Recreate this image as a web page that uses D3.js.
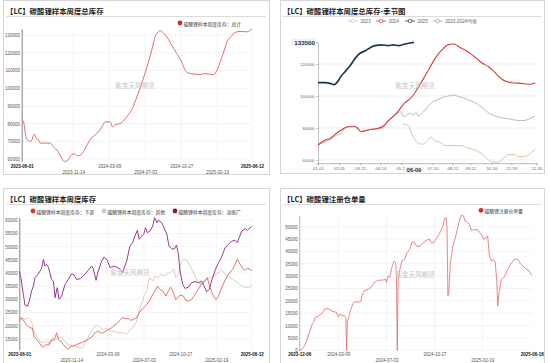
<!DOCTYPE html>
<html>
<head>
<meta charset="utf-8">
<script src="https://cdn.jsdelivr.net/npm/d3@7"></script>
<style>
  body { margin: 0; background: #fff; }
  svg { display: block; font-family: "Noto Sans CJK SC", "Noto Sans", sans-serif; }
</style>
</head>
<body>
<svg id="chart" width="550" height="363"></svg>
<script>
// ---- data ----
const totalStock = [
  ['2023-06-01', 82000], ['2023-06-06', 81500], ['2023-06-17', 71000], ['2023-06-28', 70000],
  ['2023-07-03', 70500], ['2023-07-12', 74000], ['2023-07-17', 72000], ['2023-07-25', 71000],
  ['2023-07-30', 69000], ['2023-08-31', 69000], ['2023-09-11', 67000], ['2023-09-27', 64000],
  ['2023-10-08', 60500], ['2023-10-16', 58700], ['2023-10-24', 58800], ['2023-11-01', 60500],
  ['2023-11-09', 62500], ['2023-11-17', 63000], ['2023-11-28', 61800], ['2023-12-08', 62300],
  ['2023-12-17', 64000], ['2023-12-30', 68500], ['2024-01-13', 72000], ['2024-01-29', 74500],
  ['2024-02-14', 78000], ['2024-02-25', 81000], ['2024-03-12', 81000], ['2024-03-20', 78000],
  ['2024-03-28', 79300], ['2024-04-13', 80000], ['2024-04-24', 81500], ['2024-05-05', 84000],
  ['2024-05-21', 88000], ['2024-06-06', 95000], ['2024-06-22', 103000], ['2024-07-08', 111500],
  ['2024-07-24', 121500], ['2024-08-04', 129000], ['2024-08-15', 132000], ['2024-08-20', 132500],
  ['2024-08-31', 131000], ['2024-09-16', 127500], ['2024-10-02', 122500], ['2024-10-18', 118000],
  ['2024-10-29', 114500], ['2024-11-09', 110000], ['2024-11-20', 108500], ['2024-12-06', 108000],
  ['2024-12-27', 107700], ['2025-01-09', 108200], ['2025-01-23', 108000], ['2025-02-08', 107600],
  ['2025-02-19', 110000], ['2025-03-02', 115000], ['2025-03-15', 121500], ['2025-03-23', 126000],
  ['2025-04-05', 129000], ['2025-04-19', 131500], ['2025-05-05', 132000], ['2025-05-27', 131800],
  ['2025-06-12', 133500]
];
const totalTicks = ['2023-06-01', '2023-11-14', '2024-03-09', '2024-07-03', '2024-10-27', '2025-02-19', '2025-06-12'];

const season2023 = [
  ['05-22', 82500], ['05-31', 81250], ['06-05', 76700], ['06-13', 71500], ['06-19', 70000],
  ['06-25', 70000], ['07-03', 72900], ['07-08', 74200], ['07-13', 72100], ['07-19', 71500],
  ['07-25', 70400], ['07-31', 69000], ['08-27', 69000], ['09-05', 67700], ['09-19', 66250],
  ['09-27', 64600], ['10-03', 63100], ['10-11', 60000], ['10-16', 58960], ['10-25', 58500],
  ['11-02', 60000], ['11-08', 62100], ['11-16', 63500], ['11-23', 63500], ['11-30', 62100],
  ['12-08', 62100], ['12-17', 63100], ['12-23', 65200], ['12-28', 66700]
];
const season2024 = [
  ['01-01', 69400], ['01-13', 72500], ['01-21', 73500], ['02-01', 76700], ['02-09', 78750],
  ['02-15', 80200], ['02-20', 80800], ['03-03', 80800], ['03-07', 80000], ['03-13', 77700],
  ['03-19', 78300], ['03-30', 79200], ['04-10', 79800], ['04-19', 81250], ['04-27', 84600],
  ['05-06', 87500], ['05-14', 90600], ['05-22', 94800], ['05-31', 97500], ['06-08', 100600],
  ['06-16', 105400], ['06-25', 111000], ['07-03', 116250], ['07-11', 121500], ['07-19', 126000],
  ['07-28', 129800], ['08-05', 132100], ['08-14', 132500], ['08-21', 131250], ['08-27', 129800],
  ['09-05', 128100], ['09-13', 126000], ['09-21', 123500], ['09-30', 120800], ['10-11', 118300],
  ['10-19', 115800], ['10-26', 113100], ['11-02', 110600], ['11-10', 109000], ['11-19', 108300],
  ['12-05', 107900], ['12-19', 107300], ['12-28', 108300]
];
const season2025 = [
  ['01-01', 108300], ['01-13', 108300], ['01-21', 107900], ['01-28', 107100], ['02-03', 109000],
  ['02-08', 112100], ['02-15', 115200], ['02-23', 118750], ['03-03', 123500], ['03-11', 126700],
  ['03-19', 128100], ['03-28', 130200], ['04-05', 131500], ['04-16', 131900], ['04-27', 131500],
  ['05-06', 131900], ['05-14', 131500], ['05-25', 132500], ['06-09', 133500]
];
const seasonMean = [
  ['01-01', 69400], ['01-13', 71500], ['01-24', 73500], ['02-01', 75600], ['02-07', 76250],
  ['02-15', 79800], ['02-21', 80800], ['03-03', 81250], ['03-07', 79200], ['03-13', 77700],
  ['03-30', 79200], ['04-11', 79400], ['04-19', 80200], ['04-27', 84000], ['05-06', 87100],
  ['05-14', 89600], ['05-18', 90200], ['05-22', 87100], ['05-28', 88100], ['06-02', 89200],
  ['06-08', 88100], ['06-13', 89600], ['06-16', 87500], ['06-22', 89200], ['06-27', 91250],
  ['07-03', 93750], ['07-11', 96500], ['07-20', 97900], ['07-28', 99200], ['08-05', 100000],
  ['08-14', 100600], ['08-22', 99600], ['08-30', 99000], ['09-08', 97500], ['09-19', 95800],
  ['09-27', 93750], ['10-05', 91250], ['10-14', 88750], ['10-22', 87500], ['10-30', 86700],
  ['11-08', 86000], ['11-16', 85600], ['11-24', 85000], ['12-05', 84600], ['12-17', 85400],
  ['12-23', 86700], ['12-28', 87500]
];
const seasonTicks = ['01-01', '02-05', '03-11', '04-14', '05-19', '07-10', '08-12', '09-11', '10-16', '11-18', '12-30'];

const smelterStock = [
  ['2023-06-01', 40700], ['2023-06-06', 38200], ['2023-06-14', 31850], ['2023-06-19', 27800],
  ['2023-06-27', 27400], ['2023-07-03', 29300], ['2023-07-10', 33100], ['2023-07-16', 35000],
  ['2023-07-21', 38200], ['2023-08-01', 39700], ['2023-08-11', 41700], ['2023-08-17', 45200],
  ['2023-08-22', 42600], ['2023-08-27', 43300], ['2023-09-02', 42200], ['2023-09-12', 37500],
  ['2023-09-18', 36900], ['2023-09-23', 30600], ['2023-09-30', 34400], ['2023-10-06', 30000],
  ['2023-10-14', 31200], ['2023-10-25', 35600], ['2023-11-04', 37500], ['2023-11-15', 39700],
  ['2023-11-23', 39200], ['2023-12-01', 37500], ['2023-12-12', 37800], ['2023-12-28', 39500],
  ['2024-01-07', 41000], ['2024-01-18', 42600], ['2024-01-23', 41700], ['2024-02-01', 37200],
  ['2024-02-08', 40700], ['2024-02-19', 44500], ['2024-02-27', 46100], ['2024-03-08', 44800],
  ['2024-03-17', 42000], ['2024-03-27', 42600], ['2024-04-07', 42200], ['2024-04-18', 41400],
  ['2024-04-26', 40100], ['2024-05-03', 42600], ['2024-05-09', 44500], ['2024-05-19', 50200],
  ['2024-05-28', 51500], ['2024-06-04', 54000], ['2024-06-12', 56200], ['2024-06-18', 52800],
  ['2024-06-26', 54000], ['2024-07-03', 55000], ['2024-07-08', 57200], ['2024-07-14', 55300],
  ['2024-07-22', 55900], ['2024-07-31', 57800], ['2024-08-06', 61000], ['2024-08-13', 59100],
  ['2024-08-18', 60000], ['2024-08-29', 59100], ['2024-09-05', 57200], ['2024-09-14', 54700],
  ['2024-09-21', 50200], ['2024-09-30', 49200], ['2024-10-07', 49000], ['2024-10-15', 50600],
  ['2024-10-21', 47100], ['2024-10-26', 40700], ['2024-11-04', 35600], ['2024-11-11', 34100],
  ['2024-11-22', 34600], ['2024-12-02', 36300], ['2024-12-13', 36700], ['2024-12-24', 36300],
  ['2025-01-03', 36900], ['2025-01-11', 35000], ['2025-01-19', 32900], ['2025-01-28', 33800],
  ['2025-02-04', 36900], ['2025-02-15', 41000], ['2025-02-26', 43900], ['2025-03-08', 46100],
  ['2025-03-19', 49600], ['2025-03-30', 50900], ['2025-04-09', 52100], ['2025-04-20', 52400],
  ['2025-04-27', 51500], ['2025-05-04', 53700], ['2025-05-11', 55900], ['2025-05-22', 56800],
  ['2025-05-29', 56200], ['2025-06-07', 57200], ['2025-06-12', 57600]
];
const downstreamStock = [
  ['2023-06-01', 22000], ['2023-06-08', 23000], ['2023-06-16', 21700], ['2023-06-24', 20200],
  ['2023-07-05', 19200], ['2023-07-13', 18900], ['2023-07-18', 16000], ['2023-07-26', 14700],
  ['2023-08-04', 13500], ['2023-08-11', 12200], ['2023-08-17', 11800], ['2023-08-25', 12800],
  ['2023-09-02', 12600], ['2023-09-09', 14400], ['2023-09-18', 14400], ['2023-09-23', 15400],
  ['2023-09-28', 17300], ['2023-10-04', 14700], ['2023-10-11', 14100], ['2023-10-20', 12800],
  ['2023-10-27', 11800], ['2023-11-04', 10900], ['2023-11-12', 12200], ['2023-11-20', 12200],
  ['2023-12-01', 12800], ['2023-12-17', 13500], ['2024-01-02', 14400], ['2024-01-18', 15600],
  ['2024-01-29', 17300], ['2024-02-08', 17900], ['2024-02-19', 17000], ['2024-03-06', 18100],
  ['2024-03-22', 19200], ['2024-04-07', 20700], ['2024-04-18', 22000], ['2024-04-26', 23200],
  ['2024-05-03', 22600], ['2024-05-14', 22700], ['2024-05-22', 22000], ['2024-05-30', 22300],
  ['2024-06-10', 23000], ['2024-06-18', 24900], ['2024-06-29', 26400], ['2024-07-12', 28000],
  ['2024-07-20', 29300], ['2024-07-31', 31800], ['2024-08-10', 33800], ['2024-08-15', 35000],
  ['2024-08-23', 33800], ['2024-09-03', 32900], ['2024-09-11', 31200], ['2024-09-19', 33100],
  ['2024-09-26', 34600], ['2024-10-05', 32500], ['2024-10-12', 29900], ['2024-10-19', 30600],
  ['2024-10-26', 31600], ['2024-11-06', 31200], ['2024-11-14', 29600], ['2024-11-22', 29300],
  ['2024-12-02', 29900], ['2024-12-13', 31800], ['2024-12-24', 33800], ['2025-01-03', 35900],
  ['2025-01-14', 36900], ['2025-01-21', 38200], ['2025-01-30', 34400], ['2025-02-10', 31200],
  ['2025-02-18', 29900], ['2025-02-26', 31200], ['2025-03-08', 34400], ['2025-03-19', 37200],
  ['2025-03-30', 39500], ['2025-04-12', 41400], ['2025-04-20', 43300], ['2025-04-27', 45200],
  ['2025-05-06', 43300], ['2025-05-14', 41700], ['2025-05-22', 41000], ['2025-05-29', 41700],
  ['2025-06-07', 41400], ['2025-06-12', 40700]
];
const otherStock = [
  ['2023-06-01', 20700], ['2023-06-08', 23000], ['2023-06-19', 22300], ['2023-06-30', 23000],
  ['2023-07-10', 21700], ['2023-07-16', 18500], ['2023-07-26', 16000], ['2023-08-06', 14100],
  ['2023-08-17', 13500], ['2023-08-27', 14100], ['2023-09-07', 12800], ['2023-09-15', 15400],
  ['2023-09-23', 14400], ['2023-10-04', 15400], ['2023-10-14', 15400], ['2023-10-22', 14400],
  ['2023-10-30', 13100], ['2023-11-15', 12600], ['2023-11-26', 12200], ['2023-12-12', 11600],
  ['2023-12-20', 11600], ['2023-12-28', 13500], ['2024-01-07', 15600], ['2024-01-18', 18100],
  ['2024-01-29', 19800], ['2024-02-05', 20200], ['2024-02-14', 19200], ['2024-02-24', 18500],
  ['2024-03-06', 18900], ['2024-03-17', 18100], ['2024-03-27', 17900], ['2024-04-12', 17300],
  ['2024-04-28', 17300], ['2024-05-09', 16600], ['2024-05-19', 18500], ['2024-05-28', 19200],
  ['2024-06-08', 21100], ['2024-06-15', 24200], ['2024-06-20', 26800], ['2024-06-29', 29300],
  ['2024-07-03', 31200], ['2024-07-12', 33100], ['2024-07-17', 36900], ['2024-07-22', 38200],
  ['2024-07-31', 36900], ['2024-08-07', 38800], ['2024-08-18', 38200], ['2024-08-26', 39500],
  ['2024-09-03', 38800], ['2024-09-14', 39500], ['2024-09-22', 40100], ['2024-09-30', 40700],
  ['2024-10-07', 41400], ['2024-10-12', 38200], ['2024-10-21', 39500], ['2024-10-28', 43300],
  ['2024-11-04', 44900], ['2024-11-11', 45200], ['2024-11-19', 44500], ['2024-11-27', 42600],
  ['2024-12-06', 40700], ['2024-12-13', 38800], ['2024-12-20', 36900], ['2024-12-29', 35900],
  ['2025-01-07', 36300], ['2025-01-14', 37500], ['2025-01-21', 37900], ['2025-01-30', 38200],
  ['2025-02-10', 38800], ['2025-02-18', 39500], ['2025-02-26', 40100], ['2025-03-08', 41000],
  ['2025-03-16', 40100], ['2025-03-24', 38800], ['2025-04-04', 38200], ['2025-04-14', 37500],
  ['2025-04-27', 36300], ['2025-05-11', 35000], ['2025-05-27', 34400], ['2025-06-07', 34600],
  ['2025-06-12', 35600]
];

const warrants = [
  ['2023-12-06', 0], ['2023-12-12', 400], ['2023-12-18', 1750], ['2023-12-24', 3800],
  ['2023-12-28', 6200], ['2024-01-01', 7800], ['2024-01-05', 10200], ['2024-01-09', 11200],
  ['2024-01-13', 13200], ['2024-01-21', 13900], ['2024-01-29', 14800], ['2024-02-06', 16800],
  ['2024-02-14', 16800], ['2024-02-22', 15900], ['2024-03-01', 15500], ['2024-03-05', 15200],
  ['2024-03-09', 13500], ['2024-03-13', 14600], ['2024-03-21', 13900], ['2024-03-25', 13900],
  ['2024-03-27', 13200], ['2024-03-29', 0], ['2024-03-31', 11900], ['2024-04-03', 13200],
  ['2024-04-08', 16600], ['2024-04-14', 18900], ['2024-04-18', 19700], ['2024-04-26', 19500],
  ['2024-05-02', 19700], ['2024-05-05', 22000], ['2024-05-10', 24000], ['2024-05-20', 24700],
  ['2024-05-28', 25600], ['2024-06-03', 27400], ['2024-06-13', 28300], ['2024-06-25', 28400],
  ['2024-07-01', 28700], ['2024-07-03', 27400], ['2024-07-07', 30100], ['2024-07-11', 29600],
  ['2024-07-16', 33400], ['2024-07-21', 36100], ['2024-07-25', 35400], ['2024-07-27', 30700],
  ['2024-07-29', 0], ['2024-07-31', 28000], ['2024-08-04', 32300], ['2024-08-09', 36100],
  ['2024-08-16', 36800], ['2024-08-22', 39500], ['2024-08-28', 40800], ['2024-09-02', 43500],
  ['2024-09-07', 43800], ['2024-09-13', 42200], ['2024-09-21', 41900], ['2024-09-29', 43500],
  ['2024-10-07', 44500], ['2024-10-15', 44900], ['2024-10-19', 43500], ['2024-10-25', 43500],
  ['2024-11-04', 46200], ['2024-11-12', 48500], ['2024-11-16', 50300], ['2024-11-20', 53400],
  ['2024-11-24', 53600], ['2024-11-26', 49600], ['2024-11-28', 22000], ['2024-11-30', 22600],
  ['2024-12-04', 35400], ['2024-12-10', 42200], ['2024-12-18', 46900], ['2024-12-26', 52600],
  ['2024-12-31', 54600], ['2025-01-05', 54300], ['2025-01-08', 52300], ['2025-01-13', 52000],
  ['2025-01-19', 50900], ['2025-01-24', 48500], ['2025-01-31', 48900], ['2025-02-08', 48700],
  ['2025-02-16', 46900], ['2025-02-22', 44900], ['2025-02-28', 45600], ['2025-03-04', 46200],
  ['2025-03-08', 38100], ['2025-03-13', 36100], ['2025-03-18', 36800], ['2025-03-22', 35700],
  ['2025-03-26', 28000], ['2025-03-28', 17900], ['2025-04-01', 24000], ['2025-04-06', 28700],
  ['2025-04-13', 29600], ['2025-04-21', 32700], ['2025-04-29', 35000], ['2025-05-07', 36800],
  ['2025-05-15', 36800], ['2025-05-23', 34800], ['2025-06-04', 33000], ['2025-06-12', 32100],
  ['2025-06-18', 30300]
];
const warrantTicks = ['2023-12-06', '2024-03-09', '2024-07-03', '2024-10-27', '2025-02-19', '2025-06-18'];

// ---- drawing ----
const NUM_FONT = '"Liberation Sans", Arial, sans-serif';
const parse = d3.timeParse('%Y-%m-%d');
const parseMD = s => parse('2024-' + s);
const svg = d3.select('#chart');

function frame(x, y, w, h, title) {
  const g = svg.append('g');
  g.append('rect')
    .attr('x', x + 0.5).attr('y', y + 0.5)
    .attr('width', w).attr('height', h)
    .attr('fill', '#fff').attr('stroke', '#d6d6d6');
  g.append('text')
    .attr('x', x + 3).attr('y', y + 10)
    .attr('dominant-baseline', 'central')
    .attr('font-size', 7.4).attr('font-weight', 'bold').attr('fill', '#222')
    .text(title);
  g.append('line')
    .attr('x1', x + 3).attr('x2', x + w - 3)
    .attr('y1', y + 16.5).attr('y2', y + 16.5)
    .attr('stroke', '#dcdcdc');
  return g;
}

function watermark(g, cx, cy) {
  g.append('text')
    .attr('x', cx).attr('y', cy)
    .attr('text-anchor', 'middle').attr('dominant-baseline', 'central')
    .attr('font-size', 6.6).attr('fill', '#c8c8c8')
    .text('紫金天风期货');
}

function dotLegend(g, items, y) {
  items.forEach(it => {
    g.append('circle').attr('cx', it.x).attr('cy', y).attr('r', 2.4).attr('fill', it.color);
    g.append('text')
      .attr('x', it.x + 3.5).attr('y', y)
      .attr('dominant-baseline', 'central')
      .attr('font-size', 4.8).attr('fill', '#333')
      .text(it.label);
  });
}

function seriesPanel(g, o) {
  const [x0, x1] = o.xRange, [yb, yt] = o.yRange;
  const x = d3.scaleTime().domain(o.xDomain.map(parse)).range(o.xRange);
  const y = d3.scaleLinear().domain(o.yDomain).range(o.yRange);

  g.append('g').selectAll('line').data(o.yTicks).join('line')
    .attr('x1', x0).attr('x2', x1)
    .attr('y1', d => y(d)).attr('y2', d => y(d))
    .attr('stroke', '#ececec').attr('stroke-width', 0.6);

  g.append('g').selectAll('line').data(o.gridTicks).join('line')
    .attr('x1', d => x(parse(d))).attr('x2', d => x(parse(d)))
    .attr('y1', yt).attr('y2', yb)
    .attr('stroke', '#ececec').attr('stroke-width', 0.6);

  const ya = g.append('g')
    .attr('transform', `translate(${x0},0)`)
    .call(d3.axisLeft(y).tickValues(o.yTicks).tickSize(0).tickPadding(1.6).tickFormat(d3.format('d')));
  ya.attr('font-size', 4.5).attr('font-family', NUM_FONT);
  ya.select('.domain').attr('stroke', o.axisColor).attr('stroke-width', 0.9);
  ya.selectAll('text').attr('fill', '#555');

  const last = o.xTicks.length - 1;
  const xa = g.append('g')
    .attr('transform', `translate(0,${yb})`)
    .call(d3.axisBottom(x).tickValues(o.xTicks.map(parse)).tickSize(0).tickFormat(d3.timeFormat('%Y-%m-%d')));
  xa.select('.domain').remove();
  xa.attr('font-size', 4.5).attr('font-family', NUM_FONT);
  xa.selectAll('text')
    .attr('y', (d, i) => o.rowY[o.rows[i]] - yb)
    .attr('dy', '0.35em')
    .attr('fill', (d, i) => (i === 0 || i === last) ? '#111' : '#555')
    .attr('font-weight', (d, i) => (i === 0 || i === last) ? 'bold' : 'normal');

  o.series.forEach(s => {
    g.append('path').datum(s.data)
      .attr('fill', 'none')
      .attr('stroke', s.color)
      .attr('stroke-width', s.width)
      .attr('stroke-linejoin', 'round')
      .attr('d', d3.line()
        .x(d => x(parse(d[0])))
        .y(d => y(d[1]))
        .curve(o.curve || d3.curveLinear));
  });
}

// panel 1: total stock
const p1 = frame(3, 0, 266, 174, '【LC】碳酸锂样本周度总库存');
seriesPanel(p1, {
  xDomain: ['2023-06-01', '2025-06-12'], xRange: [21.7, 252],
  yDomain: [58600, 133500], yRange: [161.5, 28.8],
  yTicks: d3.range(60000, 130001, 10000),
  xTicks: totalTicks, gridTicks: totalTicks.slice(1),
  rows: [0, 1, 0, 1, 0, 1, 0], rowY: [166, 172],
  axisColor: '#777',
  curve: d3.curveMonotoneX,
  series: [{ data: totalStock, color: '#e46c6c', width: 1 }]
});
dotLegend(p1, [{ x: 180, color: '#d42a2a', label: '碳酸锂样本周度库存：总计' }], 23);
watermark(p1, 135, 85);

// panel 2: seasonal
const p2 = frame(280, 0, 264, 173, '【LC】碳酸锂样本周度总库存-季节图');
{
  const x = d3.scaleTime().domain([parseMD('01-01'), parseMD('12-30')]).range([318, 536.4]);
  const y = d3.scaleLinear().domain([58000, 133500]).range([163.2, 42.4]);
  const gridVals = [60000, 80000, 100000, 120000];

  p2.append('g').selectAll('line').data(gridVals).join('line')
    .attr('x1', 318).attr('x2', 536.4)
    .attr('y1', d => y(d)).attr('y2', d => y(d))
    .attr('stroke', '#e6e6e6').attr('stroke-width', 0.6);

  const ya = p2.append('g')
    .attr('transform', 'translate(318,0)')
    .call(d3.axisLeft(y).tickValues(gridVals).tickSize(2).tickPadding(1.5).tickFormat(d3.format('d')));
  ya.attr('font-size', 4.3).attr('font-family', NUM_FONT);
  ya.select('.domain').attr('stroke', '#aaa').attr('stroke-width', 0.7);
  ya.selectAll('line').attr('stroke', '#aaa').attr('stroke-width', 0.6);
  ya.selectAll('text').attr('fill', '#666');

  const xa = p2.append('g')
    .attr('transform', 'translate(0,163.2)')
    .call(d3.axisBottom(x).tickValues(seasonTicks.map(parseMD)).tickSize(2).tickPadding(2).tickFormat(d3.timeFormat('%m-%d')));
  xa.attr('font-size', 4.3).attr('font-family', NUM_FONT);
  xa.select('.domain').attr('stroke', '#999').attr('stroke-width', 0.7);
  xa.selectAll('line').attr('stroke', '#999').attr('stroke-width', 0.6);
  xa.selectAll('text').attr('fill', '#666');

  const line = d3.line().x(d => x(parseMD(d[0]))).y(d => y(d[1])).curve(d3.curveMonotoneX);
  const seasons = [
    { data: seasonMean, color: '#9c9c9c', width: 0.7 },
    { data: season2023, color: '#d9c3a6', width: 1 },
    { data: season2024, color: '#d93c37', width: 1.1 },
    { data: season2025, color: '#1f3553', width: 1.7 }
  ];
  seasons.forEach(s => {
    p2.append('path').datum(s.data)
      .attr('fill', 'none').attr('stroke', s.color).attr('stroke-width', s.width)
      .attr('stroke-linejoin', 'round').attr('d', line);
  });

  // legend
  const legendItems = [
    { x: 353, color: '#d9c3a6', label: '2023' },
    { x: 381, color: '#d93c37', label: '2024' },
    { x: 410, color: '#1f3553', label: '2025' },
    { x: 437.7, color: '#9c9c9c', label: '2023-2024均值' }
  ];
  legendItems.forEach(it => {
    p2.append('line').attr('x1', it.x - 5).attr('x2', it.x + 5).attr('y1', 21).attr('y2', 21)
      .attr('stroke', it.color).attr('stroke-width', 0.8);
    p2.append('circle').attr('cx', it.x).attr('cy', 21).attr('r', 1.8)
      .attr('fill', '#fff').attr('stroke', it.color).attr('stroke-width', 0.7);
    p2.append('text').attr('x', it.x + 7.5).attr('y', 21).attr('dominant-baseline', 'central')
      .attr('font-size', 4.6).attr('font-family', NUM_FONT).attr('fill', '#666').text(it.label);
  });

  // axis pointer labels at the latest point
  const last = season2025[season2025.length - 1];
  const ly = y(last[1]);
  p2.append('line').attr('x1', 316).attr('x2', 318).attr('y1', ly).attr('y2', ly)
    .attr('stroke', '#aaa').attr('stroke-width', 0.6);
  p2.append('rect').attr('x', 291.5).attr('y', ly - 3.6).attr('width', 24).attr('height', 7.2)
    .attr('rx', 1).attr('fill', '#eef0f4');
  p2.append('text').attr('x', 315).attr('y', ly).attr('text-anchor', 'end')
    .attr('dominant-baseline', 'central').attr('font-size', 6.2).attr('font-weight', 'bold')
    .attr('font-family', NUM_FONT).attr('fill', '#1f3553').text(d3.format('d')(last[1]));
  const px = x(parseMD(last[0]));
  p2.append('rect').attr('x', px - 9.5).attr('y', 166.5).attr('width', 19).attr('height', 7)
    .attr('rx', 1).attr('fill', '#eef0f4');
  p2.append('text').attr('x', px).attr('y', 170).attr('text-anchor', 'middle')
    .attr('dominant-baseline', 'central').attr('font-size', 5.6).attr('font-weight', 'bold')
    .attr('font-family', NUM_FONT).attr('fill', '#1f3553').text(last[0]);
}
watermark(p2, 415, 85);

// panel 3: stock by segment
const p3 = frame(3, 188, 266, 176, '【LC】碳酸锂样本周度库存');
seriesPanel(p3, {
  xDomain: ['2023-06-01', '2025-06-12'], xRange: [19.3, 251.7],
  yDomain: [10900, 61000], yRange: [349.5, 217.7],
  yTicks: d3.range(15000, 60001, 5000),
  xTicks: totalTicks, gridTicks: totalTicks.slice(1),
  rows: [0, 1, 0, 1, 0, 1, 0], rowY: [354.3, 360],
  axisColor: '#777',
  series: [
    { data: otherStock, color: '#d9c8b4', width: 0.9 },
    { data: downstreamStock, color: '#e2625c', width: 0.9 },
    { data: smelterStock, color: '#9a3a8c', width: 1 }
  ]
});
dotLegend(p3, [
  { x: 33, color: '#d43a2f', label: '碳酸锂样本周度库存：下游' },
  { x: 104, color: '#d8c9b9', label: '碳酸锂样本周度库存：其他' },
  { x: 175, color: '#7a1b5c', label: '碳酸锂样本周度库存：冶炼厂' }
], 211);
watermark(p3, 130, 272);

// panel 4: registered warrants
const p4 = frame(280, 188, 264, 176, '【LC】碳酸锂注册仓单量');
seriesPanel(p4, {
  xDomain: ['2023-12-06', '2025-06-18'], xRange: [299.3, 531.7],
  yDomain: [0, 54600], yRange: [350.3, 215.3],
  yTicks: d3.range(0, 50001, 5000),
  xTicks: warrantTicks, gridTicks: warrantTicks.slice(1, -1),
  rows: [0, 0, 1, 0, 1, 0], rowY: [354.3, 360],
  axisColor: '#aaa',
  series: [{ data: warrants, color: '#e06a6a', width: 0.8 }]
});
dotLegend(p4, [{ x: 481, color: '#d42a2a', label: '碳酸锂注册仓单量' }], 210.3);
watermark(p4, 415, 274);
</script>
</body>
</html>
